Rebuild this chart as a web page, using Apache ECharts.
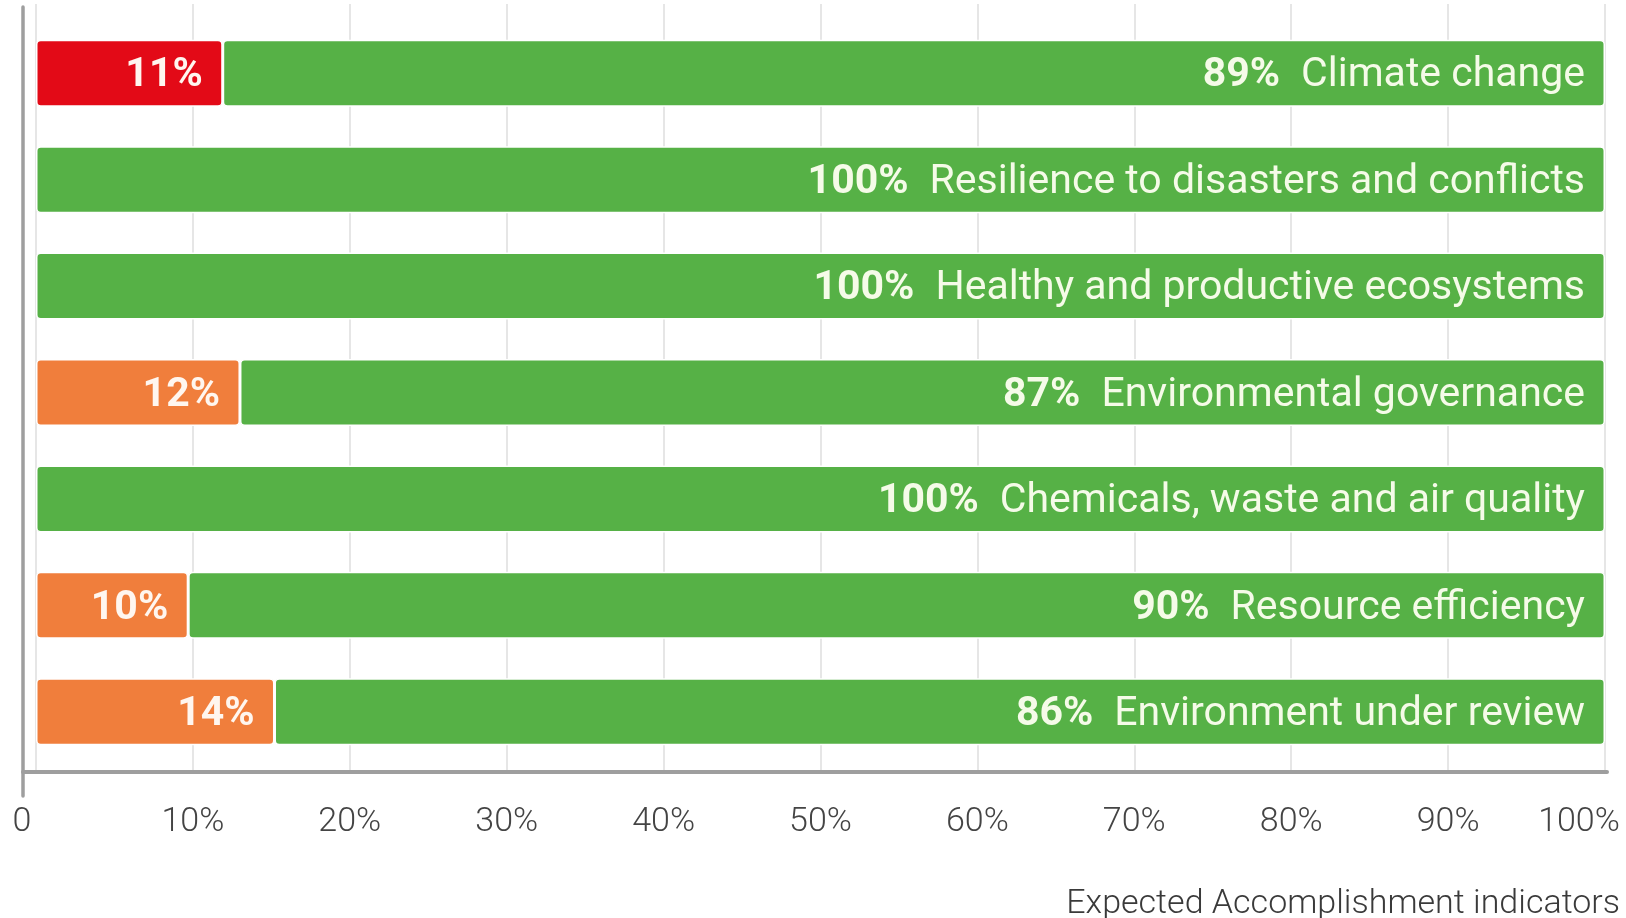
<!DOCTYPE html>
<html>
<head>
<meta charset="utf-8">
<script src="https://cdn.jsdelivr.net/npm/echarts@6/dist/echarts.min.js"></script>
<style>
  html, body { margin: 0; padding: 0; background: #ffffff; }
  #chart { width: 1626px; height: 918px; }
</style>
</head>
<body>
<div id="chart"></div>
<script>
// Categories, top to bottom
var categories = [
  'Climate change',
  'Resilience to disasters and conflicts',
  'Healthy and productive ecosystems',
  'Environmental governance',
  'Chemicals, waste and air quality',
  'Resource efficiency',
  'Environment under review'
];
// Bar lengths (share of the full bar)
var alertShare = [11.9, 0, 0, 13.0, 0, 9.7, 15.2];
var greenShare = [88.1, 100, 100, 87.0, 100, 90.3, 84.8];
// Printed labels
var alertLabels = ['11%', '', '', '12%', '', '10%', '14%'];
var greenLabels = ['89%', '100%', '100%', '87%', '100%', '90%', '86%'];
// Alert level of the non-green segment
var alertLevels = ['red', '', '', 'orange', '', 'orange', 'orange'];
// Axis ticks
var xTicks = [0, 10, 20, 30, 40, 50, 60, 70, 80, 90, 100];
var axisTitle = 'Expected Accomplishment indicators';

var levelColors = { red: '#e30a17', orange: '#f07e3c' };
var green = '#56b146';
var FONT = 'Roboto, "Noto Sans", sans-serif';
var LABEL_SIZE = 41;

var alertData = alertShare.map(function (v, i) {
  return {
    value: v,
    itemStyle: {
      color: levelColors[alertLevels[i]] || green,
      borderWidth: v > 0 ? 1.5 : 0
    }
  };
});
var greenData = greenShare.map(function (v) { return { value: v }; });

var chart = echarts.init(document.getElementById('chart'), null, { renderer: 'canvas' });

var option = {
  backgroundColor: '#ffffff',
  animation: false,
  title: {
    text: axisTitle,
    right: 6,
    top: 887,
    padding: 0,
    textStyle: { fontFamily: FONT, fontSize: 34, fontWeight: 300, color: '#3a3a3a' }
  },
  grid: [
    // 0: bars
    { left: 36, right: 21, top: 20, bottom: 153, containLabel: false },
    // 1: gridlines + tick labels
    { left: 36, right: 21, top: 4, bottom: 146, containLabel: false },
    // 2: axis frame lines
    { left: 23, right: 19, top: 7, bottom: 122, containLabel: false }
  ],
  xAxis: [
    { gridIndex: 0, type: 'value', min: 0, max: 100, show: false },
    {
      gridIndex: 1, type: 'value', min: 0, max: 100, interval: 10,
      axisLine: { show: false },
      axisTick: { show: false },
      splitLine: { show: true, lineStyle: { color: '#e6e6e6', width: 2 } },
      axisLabel: {
        margin: 33,
        fontFamily: FONT, fontSize: 34, fontWeight: 300, color: '#444444',
        formatter: function (v) {
          if (v === xTicks[0]) return '{z|0}';
          if (v === xTicks[xTicks.length - 1]) return '{m|' + v + '%}';
          return v + '%';
        },
        rich: {
          z: { fontFamily: FONT, fontSize: 34, fontWeight: 300, color: '#444444', padding: [0, 28, 0, 0] },
          m: { fontFamily: FONT, fontSize: 34, fontWeight: 300, color: '#444444', padding: [0, 52, 0, 0] }
        }
      }
    },
    {
      gridIndex: 2, type: 'value', min: 0, max: 1, offset: -24,
      axisLine: { show: true, onZero: false, lineStyle: { color: '#9e9e9e', width: 4 } },
      axisTick: { show: false }, axisLabel: { show: false }, splitLine: { show: false }
    }
  ],
  yAxis: [
    { gridIndex: 0, type: 'category', data: categories, inverse: true, show: false },
    { gridIndex: 1, type: 'value', min: 0, max: 1, show: false },
    {
      gridIndex: 2, type: 'value', min: 0, max: 1,
      axisLine: { show: true, onZero: false, lineStyle: { color: '#9e9e9e', width: 3.5 } },
      axisTick: { show: false }, axisLabel: { show: false }, splitLine: { show: false }
    }
  ],
  series: [
    {
      name: 'Alert',
      type: 'bar',
      xAxisIndex: 0, yAxisIndex: 0,
      stack: 'total',
      barWidth: 67,
      data: alertData,
      itemStyle: { borderColor: '#ffffff', borderRadius: 4 },
      label: {
        show: true,
        position: 'insideRight',
        distance: 20,
        formatter: function (p) {
          return alertLabels[p.dataIndex] ? '{a|' + alertLabels[p.dataIndex] + '}' : '';
        },
        rich: {
          a: { fontFamily: FONT, fontSize: LABEL_SIZE, fontWeight: 'bold', color: '#fff6ef', padding: [6, 0, 0, 0] }
        }
      },
      z: 3
    },
    {
      name: 'On track',
      type: 'bar',
      xAxisIndex: 0, yAxisIndex: 0,
      stack: 'total',
      barWidth: 67,
      data: greenData,
      itemStyle: { color: green, borderColor: '#ffffff', borderWidth: 1.5, borderRadius: 4 },
      label: {
        show: true,
        position: 'insideRight',
        distance: 20,
        formatter: function (p) {
          return '{b|' + greenLabels[p.dataIndex] + '}{n|' + categories[p.dataIndex] + '}';
        },
        rich: {
          b: { fontFamily: FONT, fontSize: LABEL_SIZE, fontWeight: 'bold', color: '#f5fbe8', padding: [6, 0, 0, 0] },
          n: { fontFamily: FONT, fontSize: LABEL_SIZE, fontWeight: 'normal', color: '#f5fbe8', padding: [6, 0, 0, 21] }
        }
      },
      z: 3
    }
  ]
};
chart.setOption(option);
</script>
</body>
</html>
